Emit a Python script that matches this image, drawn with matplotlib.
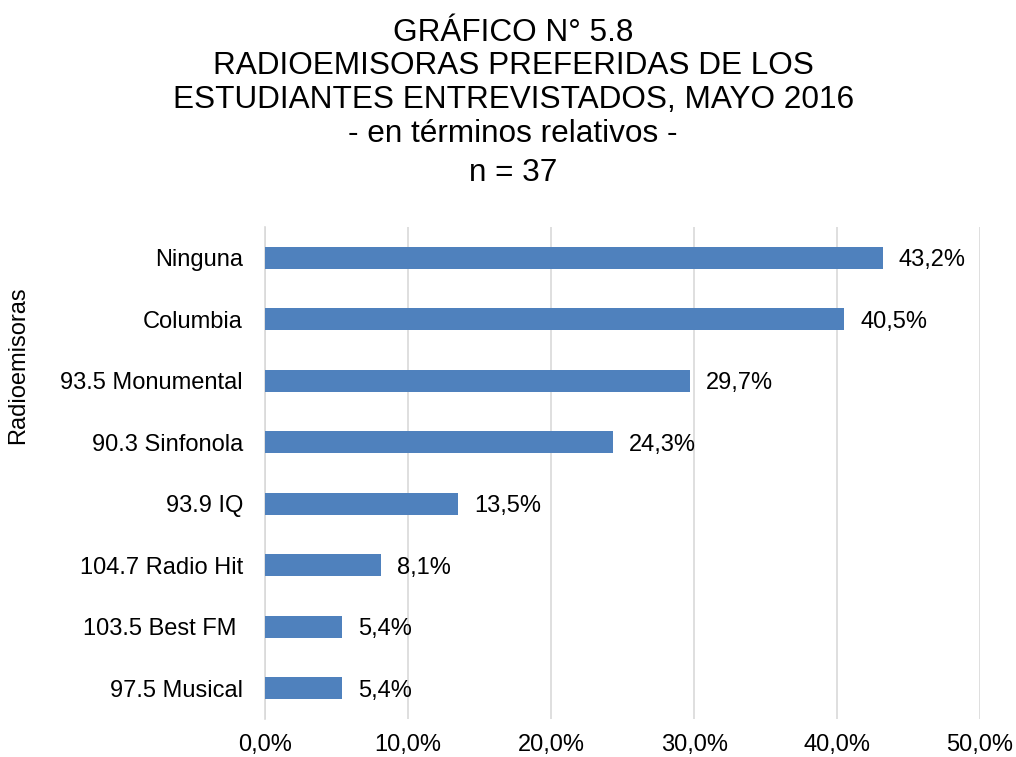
import matplotlib.pyplot as plt
import numpy as np

plt.rcParams['font.family'] = ['Liberation Sans', 'DejaVu Sans']

# data, top to bottom as shown
emisoras = ['Ninguna', 'Columbia', '93.5 Monumental', '90.3 Sinfonola',
            '93.9 IQ', '104.7 Radio Hit', '103.5 Best FM ', '97.5 Musical']
porcentaje = [43.2, 40.5, 29.7, 24.3, 13.5, 8.1, 5.4, 5.4]
xticks = [0, 10, 20, 30, 40, 50]

titulo = ['GRÁFICO N° 5.8', 'RADIOEMISORAS PREFERIDAS DE LOS',
          'ESTUDIANTES ENTREVISTADOS, MAYO 2016', '- en términos relativos -',
          'n = 37']
titulo_y = [33, 66, 100, 134, 173]  # line centres in pixels from top

fig = plt.figure(figsize=(10.16, 7.57), dpi=100)
ax = fig.add_axes([0.261, 0.050, 0.7036, 0.650])

y = np.arange(len(emisoras))
ax.barh(y, porcentaje, height=0.36, color='#4F81BD', zorder=3)
ax.set_ylim(len(emisoras) - 0.5, -0.5)
ax.set_xlim(0, 50)

for yi, v in zip(y, porcentaje):
    ax.annotate('{0:.1f}%'.format(v).replace('.', ','), (v, yi),
                xytext=(11.5, 0), textcoords='offset points',
                va='center_baseline', ha='left', fontsize=17, color='#000000')

ax.set_yticks(y)
ax.set_yticklabels(emisoras, fontsize=17)
ax.set_xticks(xticks)
ax.set_xticklabels(['{0:.1f}%'.format(t).replace('.', ',') for t in xticks],
                   fontsize=17)
ax.tick_params(axis='both', length=0)
ax.tick_params(axis='x', pad=11)
ax.tick_params(axis='y', pad=16)
ax.grid(axis='x', color='#D9D9D9', linewidth=1.2, zorder=0)
for s in ['top', 'right', 'bottom']:
    ax.spines[s].set_visible(False)
ax.spines['left'].set_color('#D9D9D9')
ax.spines['left'].set_linewidth(1.2)

fig.text(0.018, 0.518, 'Radioemisoras', rotation=90, fontsize=17,
         ha='center', va='center')
for linea, py in zip(titulo, titulo_y):
    fig.text(0.505, 1 - py / 757, linea, ha='center', va='center',
             fontsize=22.7)

plt.savefig('out.png', dpi=100)
